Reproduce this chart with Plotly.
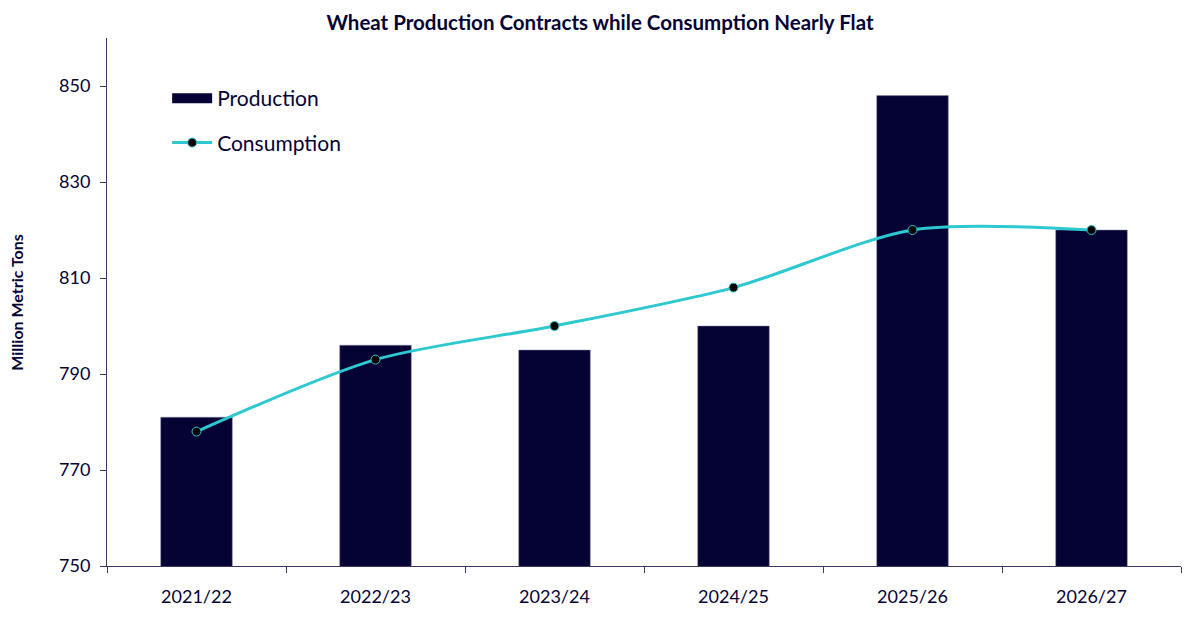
import plotly.graph_objects as go

years = ["2021/22", "2022/23", "2023/24", "2024/25", "2025/26", "2026/27"]
production = [781, 796, 795, 800, 848, 820]
consumption = [778, 793, 800, 808, 820, 820]

navy = "#050334"
teal = "#2ec8d0"
axis_col = "#3b3868"
font = "Lato"

fig = go.Figure()
fig.add_trace(go.Bar(
    x=years, y=production, name="Production",
    marker=dict(color=navy, line=dict(color="#8a88a8", width=0.5)),
    width=0.4, showlegend=False,
))
# wide swatch for the bar legend entry
fig.add_trace(go.Scatter(
    x=[None], y=[None], name="Production", mode="lines",
    line=dict(color=navy, width=16), legendgroup="p",
))
fig.add_trace(go.Scatter(
    x=years, y=consumption, name="Consumption",
    mode="lines+markers",
    line=dict(color=teal, width=3, shape="spline", smoothing=0.8),
    marker=dict(size=9, color="black", line=dict(color=teal, width=1)),
    legendgroup="c",
))

fig.update_layout(
    width=1200, height=628,
    paper_bgcolor="white", plot_bgcolor="white",
    margin=dict(l=107, r=19, t=38, b=62, autoexpand=False),
    font=dict(family=font, color=navy),
    title=dict(
        text="<b>Wheat Production Contracts while Consumption Nearly Flat</b>",
        x=0.5, xanchor="center", y=0.964, yanchor="middle",
        font=dict(size=20.5, color=navy, family=font),
    ),
    showlegend=True,
    legend=dict(
        x=0.056, y=0.924, xanchor="left", yanchor="top",
        font=dict(size=21, color=navy, family=font),
        bgcolor="rgba(0,0,0,0)", tracegroupgap=14,
        itemwidth=40,
    ),
    annotations=[dict(
        text="<b>Million Metric Tons</b>", textangle=-90,
        xref="paper", yref="paper", x=-0.085, y=0.5,
        xanchor="center", yanchor="middle", showarrow=False,
        font=dict(size=16, color=navy, family=font),
    )],
)
fig.update_xaxes(
    type="category", showline=True, linecolor=axis_col, linewidth=1,
    ticks="outside", tickson="boundaries", ticklen=6, tickcolor=axis_col,
    tickfont=dict(size=18, color=navy, family=font), showgrid=False,
    ticklabelstandoff=14, automargin=False,
)
fig.update_yaxes(
    range=[750, 860], tickvals=[750, 770, 790, 810, 830, 850],
    showline=True, linecolor=axis_col, linewidth=1,
    ticks="outside", ticklen=6, tickcolor=axis_col,
    tickfont=dict(size=18, color=navy, family=font), showgrid=False,
    zeroline=False, automargin=False, ticklabelstandoff=6,
)

fig.write_html("out.html", config={"displayModeBar": False},
               post_script="document.body.style.margin='0';")
